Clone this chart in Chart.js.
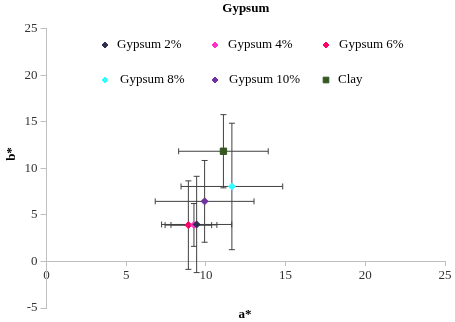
<!DOCTYPE html>
<html>
<head>
<meta charset="utf-8">
<script src="https://cdn.jsdelivr.net/npm/chart.js@4"></script>
<style>
  html, body { margin: 0; padding: 0; background: #fff; }
  #wrap { width: 455px; height: 322px; }
</style>
</head>
<body>
<div id="wrap"><canvas id="chart"></canvas></div>
<script>
// series data
const seriesNames = ['Gypsum 2%', 'Gypsum 4%', 'Gypsum 6%', 'Gypsum 8%', 'Gypsum 10%', 'Clay'];
const aValues = [9.42, 9.25, 8.9, 11.63, 9.92, 11.1];   // a*
const bValues = [3.97, 3.92, 3.9, 8.05, 6.45, 11.83];   // b*
const aErrors = [2.2, 1.44, 1.46, 3.19, 3.1, 2.81];
const bErrors = [5.17, 2.3, 4.75, 6.79, 4.39, 3.93];
const xTicks = [0, 5, 10, 15, 20, 25];
const yTicks = [-5, 0, 5, 10, 15, 20, 25];

const colors = ['#2e2e4f', '#ff33cc', '#ff0066', '#33ffff', '#7030a0', '#375623'];
const shapes = ['rectRot', 'rectRot', 'rectRot', 'rectRot', 'rectRot', 'rect'];
const serif = "'Liberation Serif', 'Times New Roman', serif";

const datasets = seriesNames.map((name, i) => ({
    label: name,
    data: [{ x: aValues[i], y: bValues[i], xe: aErrors[i], ye: bErrors[i] }],
    pointStyle: shapes[i],
    pointRadius: shapes[i] === 'rect' ? 4.5 : 3.5,
    backgroundColor: colors[i],
    borderColor: colors[i],
    borderWidth: 1
}));

// error bars drawn under the markers
const errorBars = {
    id: 'errorBars',
    beforeDatasetsDraw(chart) {
        const { ctx, scales: { x, y } } = chart;
        const cap = 3;
        ctx.save();
        ctx.strokeStyle = '#404040';
        ctx.lineWidth = 1;
        chart.data.datasets.forEach(ds => {
            ds.data.forEach(p => {
                const px = x.getPixelForValue(p.x);
                const py = y.getPixelForValue(p.y);
                const x1 = x.getPixelForValue(p.x - p.xe);
                const x2 = x.getPixelForValue(p.x + p.xe);
                const y1 = y.getPixelForValue(p.y - p.ye);
                const y2 = y.getPixelForValue(p.y + p.ye);
                ctx.beginPath();
                ctx.moveTo(x1, py); ctx.lineTo(x2, py);
                ctx.moveTo(x1, py - cap); ctx.lineTo(x1, py + cap);
                ctx.moveTo(x2, py - cap); ctx.lineTo(x2, py + cap);
                ctx.moveTo(px, y1); ctx.lineTo(px, y2);
                ctx.moveTo(px - cap, y1); ctx.lineTo(px + cap, y1);
                ctx.moveTo(px - cap, y2); ctx.lineTo(px + cap, y2);
                ctx.stroke();
            });
        });
        ctx.restore();
    }
};

// legend sits inside the plot, 3 columns x 2 rows
const insideLegend = {
    id: 'insideLegend',
    afterDraw(chart) {
        const ctx = chart.ctx;
        const cols = [105, 215, 326];
        const rows = [45, 80];
        const textGap = [12, 13, 13, 15, 14, 12];
        ctx.save();
        ctx.font = '13px ' + serif;
        ctx.textBaseline = 'middle';
        chart.data.datasets.forEach((ds, i) => {
            const cx = cols[i % 3];
            const cy = rows[Math.floor(i / 3)];
            ctx.fillStyle = ds.backgroundColor;
            ctx.strokeStyle = ds.borderColor;
            ctx.lineWidth = 1;
            Chart.helpers.drawPoint(ctx, { pointStyle: ds.pointStyle, radius: ds.pointRadius - 0.5, borderWidth: 1 }, cx, cy);
            ctx.fillStyle = '#000';
            ctx.fillText(ds.label, cx + textGap[i], cy);
        });
        ctx.restore();
    }
};

// axis titles placed where the original puts them
const axisTitles = {
    id: 'axisTitles',
    afterDraw(chart) {
        const ctx = chart.ctx;
        ctx.save();
        ctx.font = 'bold 13px ' + serif;
        ctx.fillStyle = '#000';
        ctx.textAlign = 'center';
        ctx.textBaseline = 'middle';
        ctx.fillText('a*', 245, 315);
        ctx.translate(12, 154);
        ctx.rotate(-Math.PI / 2);
        ctx.fillText('b*', 0, 0);
        ctx.restore();
    }
};

new Chart(document.getElementById('chart'), {
    type: 'scatter',
    data: { datasets },
    options: {
        responsive: true,
        maintainAspectRatio: false,
        animation: false,
        layout: { padding: { top: 0, right: 10, bottom: 14, left: 0 } },
        plugins: {
            legend: { display: false },
            tooltip: { enabled: false },
            title: {
                display: true,
                text: 'Gypsum',
                fullSize: false,
                color: '#000',
                font: { family: serif, size: 13, weight: 'bold' },
                padding: { top: 1, bottom: 12 }
            }
        },
        scales: {
            x: {
                type: 'linear',
                min: 0,
                max: 25,
                position: { y: 0 },
                afterBuildTicks: s => { s.ticks = xTicks.map(v => ({ value: v })); },
                ticks: { color: '#333', font: { family: serif, size: 13 }, padding: 2, maxRotation: 0 },
                grid: { drawOnChartArea: false, tickLength: 4, color: '#bfbfbf' },
                border: { color: '#bfbfbf' }
            },
            y: {
                type: 'linear',
                min: -5,
                max: 25,
                afterBuildTicks: s => { s.ticks = yTicks.map(v => ({ value: v })); },
                afterFit: s => { s.width = 46.5; },
                ticks: { color: '#333', font: { family: serif, size: 13 }, padding: 3 },
                grid: { drawOnChartArea: false, tickLength: 6, color: '#bfbfbf' },
                border: { color: '#bfbfbf' }
            }
        }
    },
    plugins: [errorBars, insideLegend, axisTitles]
});
</script>
</body>
</html>
